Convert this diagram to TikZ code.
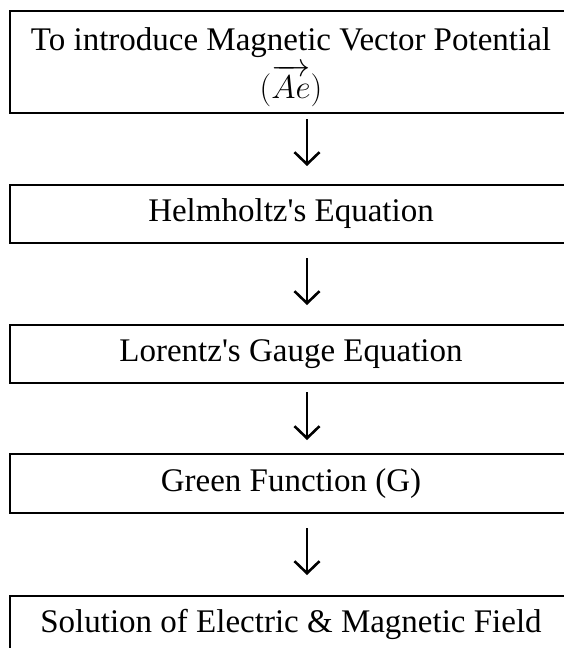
\RequirePackage{fix-cm}
\documentclass[tikz,border=0pt]{standalone}
\usepackage{fontspec}
\setmainfont{Liberation Serif}
\usetikzlibrary{arrows.meta}
\begin{document}
\begin{tikzpicture}[x=1pt,y=-1pt,
  txt/.style={inner sep=0pt,font=\fontsize{33}{40}\selectfont},
  box/.style={txt,draw=black,line width=1.7pt,minimum width=562pt,align=center},
  flow/.style={line width=2.6pt,-{Straight Barb[length=12pt,width=25pt]}}]
\useasboundingbox (0,0) rectangle (564,648);
\clip (0,0) rectangle (564,648);
\node[box,minimum height=102pt] (b1) at (291,62) {};
\node[txt,anchor=base] (t1) at (291,50) {To introduce Magnetic Vector Potential};
\node[txt,anchor=base] (t1m) at (291,98) {$(\overrightarrow{Ae})$};
\node[box,minimum height=58pt] (b2) at (291,214) {Helmholtz\textquotesingle s Equation};
\node[box,minimum height=58pt] (b3) at (291,354) {Lorentz\textquotesingle s Gauge Equation};
\node[box,minimum height=59pt] (b4) at (291,483.5) {Green Function (G)};
\node[box,minimum height=58pt,anchor=north] (b5) at (291,595) {Solution of Electric \& Magnetic Field};
\coordinate (a1s) at (307,119); \coordinate (a1e) at (307,166);
\coordinate (a2s) at (307,258); \coordinate (a2e) at (307,305);
\coordinate (a3s) at (307,392); \coordinate (a3e) at (307,440);
\coordinate (a4s) at (307,528); \coordinate (a4e) at (307,575);
\draw[flow] (a1s) -- (a1e);
\draw[flow] (a2s) -- (a2e);
\draw[flow] (a3s) -- (a3e);
\draw[flow] (a4s) -- (a4e);
\end{tikzpicture}
\end{document}
